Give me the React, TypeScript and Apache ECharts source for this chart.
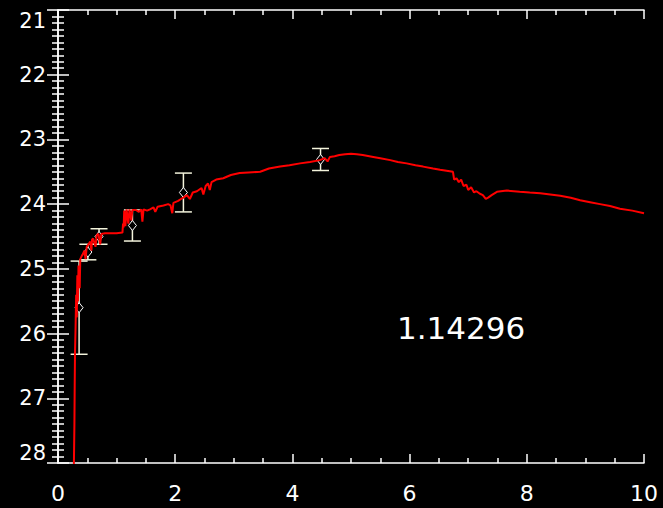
import React, { useEffect, useRef } from "react";
import * as echarts from "echarts";

// Model spectrum (wavelength vs magnitude), including the narrow absorption spikes
const sedX = [
  0.27, 0.28, 0.285, 0.29, 0.3, 0.31, 0.32, 0.33, 0.34, 0.35, 0.37, 0.38, 0.4, 0.42, 0.45, 0.47, 0.49,
  0.52, 0.55, 0.57, 0.58, 0.6, 0.64, 0.66, 0.69, 0.72, 0.74, 0.8, 0.9, 1.0, 1.1, 1.11, 1.12, 1.13,
  1.15, 1.17, 1.2, 1.22, 1.25, 1.27, 1.33, 1.38, 1.42, 1.44, 1.46, 1.52, 1.57, 1.63, 1.66, 1.7, 1.8,
  1.88, 1.92, 1.95, 1.97, 2.05, 2.1, 2.14, 2.2, 2.25, 2.3, 2.37, 2.45, 2.48, 2.52, 2.56, 2.59, 2.62,
  2.7, 2.82, 2.95, 3.1, 3.25, 3.45, 3.6, 3.79, 3.95, 4.13, 4.3, 4.47, 4.55, 4.6, 4.64, 4.72, 4.8, 4.9,
  5.0, 5.1, 5.2, 5.38, 5.5, 5.67, 5.8, 5.95, 6.1, 6.23, 6.4, 6.52, 6.74, 6.76, 6.8, 6.84, 6.88, 6.92,
  6.97, 7.0, 7.05, 7.1, 7.14, 7.2, 7.25, 7.3, 7.34, 7.4, 7.49, 7.66, 7.88, 8.05, 8.23, 8.4, 8.57, 8.75,
  8.91, 9.08, 9.25, 9.42, 9.59, 9.8, 10.0,
];
const sedY = [
  28.1, 27.4, 26.8, 26.3, 25.9, 25.4, 25.75, 25.1, 25.5, 24.95, 25.3, 24.85, 24.81, 24.78, 24.72, 24.85,
  24.66, 24.62, 24.58, 24.72, 24.55, 24.53, 24.66, 24.48, 24.46, 24.62, 24.46, 24.45, 24.45, 24.45,
  24.44, 24.3, 24.36, 24.1, 24.34, 24.08, 24.3, 24.08, 24.25, 24.09, 24.09, 24.12, 24.08, 24.27, 24.08,
  24.1, 24.08, 24.05, 24.12, 24.04, 24.02, 24.0, 24.02, 24.14, 23.98, 23.95, 23.92, 23.9, 23.86, 23.92,
  23.82, 23.8, 23.75, 23.85, 23.72, 23.68, 23.78, 23.66, 23.62, 23.6, 23.55, 23.52, 23.51, 23.5, 23.45,
  23.42, 23.4, 23.37, 23.35, 23.32, 23.29, 23.34, 23.27, 23.26, 23.24, 23.23, 23.22, 23.23, 23.24, 23.27,
  23.29, 23.32, 23.35, 23.37, 23.4, 23.42, 23.45, 23.47, 23.5, 23.62, 23.6, 23.66, 23.62, 23.72, 23.7,
  23.78, 23.74, 23.82, 23.8, 23.84, 23.86, 23.92, 23.9, 23.86, 23.81, 23.79, 23.81, 23.82, 23.83, 23.85,
  23.87, 23.9, 23.94, 23.97, 24.0, 24.03, 24.07, 24.1, 24.14,
];

// Photometric measurements with their errors
const obsX = [0.36, 0.51, 0.7, 1.27, 2.14, 4.48];
const obsY = [25.6, 24.74, 24.5, 24.33, 23.82, 23.31];
const obsErr = [0.72, 0.12, 0.12, 0.24, 0.3, 0.17];

const annotation = "1.14296";

const xTicks = { min: 0, max: 10, interval: 2 };
const yTicks = { min: 21, max: 28, interval: 1 };

const FONT = "DejaVu Sans";
const WHITE = "#ffffff";
const BAR = "#f4f4dc";

export default function App() {
  const ref = useRef<HTMLDivElement>(null);

  useEffect(() => {
    document.body.style.margin = "0";
    document.body.style.background = "#000";
    const chart = echarts.init(ref.current!, null, { renderer: "svg" });

    const axisLine = { show: true, lineStyle: { color: WHITE, width: 1.5 } };
    const tickStyle = { color: WHITE, width: 1.5 };

    const xBase = {
      type: "value" as const,
      ...xTicks,
      axisLine,
      splitLine: { show: false },
      axisTick: { show: true, inside: true, length: 9, lineStyle: tickStyle },
      minorTick: { show: true, splitNumber: 4, length: 5, lineStyle: tickStyle },
    };
    const yBase = {
      type: "value" as const,
      ...yTicks,
      inverse: true,
      axisLine,
      splitLine: { show: false },
      axisTick: { show: true, inside: true, length: 11, lineStyle: tickStyle },
      minorTick: { show: true, splitNumber: 10, length: 6, lineStyle: tickStyle },
    };

    const sed = sedX.map((x, i) => [x, sedY[i]]);
    const obs = obsX.map((x, i) => [x, obsY[i], obsErr[i]]);

    chart.setOption({
      animation: false,
      backgroundColor: "#000000",
      grid: { left: 58, top: 10, right: 19, bottom: 45, containLabel: false },
      xAxis: [
        {
          ...xBase,
          position: "bottom",
          axisLabel: { color: WHITE, fontSize: 22, fontFamily: FONT, margin: 19 },
        },
        { ...xBase, position: "top", axisLabel: { show: false } },
      ],
      yAxis: [
        {
          ...yBase,
          position: "left",
          axisLabel: {
            color: WHITE,
            fontSize: 21,
            fontFamily: FONT,
            margin: 12,
            verticalAlignMinLabel: "top",
            verticalAlignMaxLabel: "bottom",
          },
        },
        { ...yBase, position: "right", axisLabel: { show: false } },
      ],
      series: [
        {
          type: "custom",
          name: "photometry",
          xAxisIndex: 0,
          yAxisIndex: 0,
          z: 2,
          data: obs,
          renderItem: (params: any, api: any) => {
            const x = api.value(0);
            const y = api.value(1);
            const e = api.value(2);
            const c = api.coord([x, y]);
            const top = api.coord([x, y - e]);
            const bot = api.coord([x, y + e]);
            const half = 8.5;
            const lineStyle = { stroke: BAR, lineWidth: 1.5 };
            return {
              type: "group",
              children: [
                { type: "line", shape: { x1: c[0], y1: top[1], x2: c[0], y2: bot[1] }, style: lineStyle },
                { type: "line", shape: { x1: c[0] - half, y1: top[1], x2: c[0] + half, y2: top[1] }, style: lineStyle },
                { type: "line", shape: { x1: c[0] - half, y1: bot[1], x2: c[0] + half, y2: bot[1] }, style: lineStyle },
                {
                  type: "polygon",
                  shape: {
                    points: [
                      [c[0], c[1] - 5],
                      [c[0] + 4, c[1]],
                      [c[0], c[1] + 5],
                      [c[0] - 4, c[1]],
                    ],
                  },
                  style: { fill: "#000", stroke: WHITE, lineWidth: 1 },
                },
              ],
            };
          },
        },
        {
          type: "line",
          name: "model",
          xAxisIndex: 0,
          yAxisIndex: 0,
          z: 3,
          data: sed,
          showSymbol: false,
          symbol: "none",
          lineStyle: { color: "#ff0000", width: 2 },
        },
      ],
      graphic: [
        {
          type: "text",
          left: 397,
          top: 312,
          style: { text: annotation, fill: WHITE, font: `31px "${FONT}"` },
        },
      ],
    });

    return () => chart.dispose();
  }, []);

  return <div ref={ref} style={{ width: 663, height: 508, position: "absolute", left: 0, top: 0 }} />;
}
